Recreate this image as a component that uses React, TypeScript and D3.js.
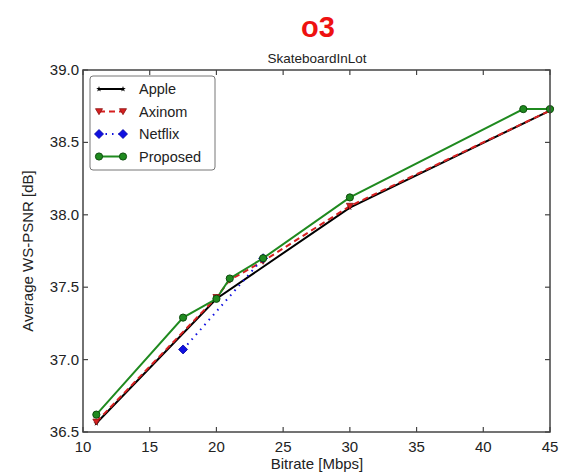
import React from "react";
import * as d3 from "d3";

const xTicks = [10, 15, 20, 25, 30, 35, 40, 45];
const yTicks = [36.5, 37.0, 37.5, 38.0, 38.5, 39.0];

const appleX = [11, 20, 30, 45];
const appleY = [36.56, 37.42, 38.05, 38.72];
const axinomX = [11, 20, 21, 23.5, 30, 45];
const axinomY = [36.57, 37.43, 37.55, 37.68, 38.06, 38.72];
const netflixX = [17.5, 23.5];
const netflixY = [37.07, 37.7];
const proposedX = [11, 17.5, 20, 21, 23.5, 30, 43, 45];
const proposedY = [36.62, 37.29, 37.42, 37.56, 37.7, 38.12, 38.73, 38.73];

const W = 561, H = 474;
const L = 83, R = 550, T = 70, B = 432;

export default function App() {
  const x = d3.scaleLinear().domain([10, 45]).range([L, R]);
  const y = d3.scaleLinear().domain([36.5, 39.0]).range([B, T]);
  const line = d3.line<[number, number]>().x(d => x(d[0])).y(d => y(d[1]));
  const pts = (xs: number[], ys: number[]) => xs.map((v, i) => [v, ys[i]] as [number, number]);

  const font = "'Liberation Sans', Arial, sans-serif";
  const axisColor = "#444";
  const green = "#1f8a1f";
  const red = "#d62020";
  const blue = "#1010e0";

  const tri = (cx: number, cy: number, s: number) =>
    `M${cx - s},${cy - s * 0.8}L${cx + s},${cy - s * 0.8}L${cx},${cy + s * 0.9}Z`;
  const diamond = (cx: number, cy: number, s: number) =>
    `M${cx},${cy - s}L${cx + s},${cy}L${cx},${cy + s}L${cx - s},${cy}Z`;
  const star = d3.symbol(d3.symbolStar, 10)();

  const legendItems = [
    { name: "Apple", color: "#000", dash: "", marker: "star" },
    { name: "Axinom", color: red, dash: "6,4", marker: "tri" },
    { name: "Netflix", color: blue, dash: "1.5,5", marker: "diamond" },
    { name: "Proposed", color: green, dash: "", marker: "circle" },
  ];

  const drawMarker = (m: string, cx: number, cy: number, key: string) => {
    if (m === "star") return <path key={key} d={star || ""} transform={`translate(${cx},${cy})`} fill="#000" />;
    if (m === "tri") return <path key={key} d={tri(cx, cy, 3.5)} fill={red} stroke="#8a1010" strokeWidth={0.8} />;
    if (m === "diamond") return <path key={key} d={diamond(cx, cy, 4.5)} fill={blue} stroke="#0000a0" strokeWidth={0.8} />;
    return <circle key={key} cx={cx} cy={cy} r={3.6} fill={green} stroke="#0d4d0d" strokeWidth={1} />;
  };

  return (
    <svg width={W} height={H} style={{ position: "absolute", left: 0, top: 0, background: "#fff" }}>
      <rect x={0} y={0} width={W} height={H} fill="#fff" />
      <text x={318} y={37} textAnchor="middle" fontFamily={font} fontWeight="bold" fontSize={29} fill="#ee1111">o3</text>
      <text x={317} y={63} textAnchor="middle" fontFamily={font} fontSize={13.5} fill="#222">SkateboardInLot</text>

      {/* lines */}
      <path d={line(pts(appleX, appleY)) || ""} fill="none" stroke="#000" strokeWidth={2} />
      <path d={line(pts(axinomX, axinomY)) || ""} fill="none" stroke={red} strokeWidth={2} strokeDasharray="6,4" />
      <path d={line(pts(netflixX, netflixY)) || ""} fill="none" stroke={blue} strokeWidth={2} strokeDasharray="1.5,5" />
      <path d={line(pts(proposedX, proposedY)) || ""} fill="none" stroke={green} strokeWidth={2} />

      {appleX.map((v, i) => drawMarker("star", x(v), y(appleY[i]), "a" + i))}
      {axinomX.map((v, i) => drawMarker("tri", x(v), y(axinomY[i]), "x" + i))}
      {netflixX.map((v, i) => drawMarker("diamond", x(v), y(netflixY[i]), "n" + i))}
      {proposedX.map((v, i) => drawMarker("circle", x(v), y(proposedY[i]), "p" + i))}

      {/* frame */}
      <rect x={L} y={T} width={R - L} height={B - T} fill="none" stroke={axisColor} strokeWidth={1.5} />
      {xTicks.map(t => (
        <g key={"xt" + t}>
          <line x1={x(t)} x2={x(t)} y1={B} y2={B - 5} stroke={axisColor} strokeWidth={1.2} />
          <line x1={x(t)} x2={x(t)} y1={T} y2={T + 5} stroke={axisColor} strokeWidth={1.2} />
          <text x={x(t)} y={B + 20} textAnchor="middle" fontFamily={font} fontSize={15} fill="#222">{t}</text>
        </g>
      ))}
      {yTicks.map(t => (
        <g key={"yt" + t}>
          <line x1={L} x2={L + 5} y1={y(t)} y2={y(t)} stroke={axisColor} strokeWidth={1.2} />
          <line x1={R} x2={R - 5} y1={y(t)} y2={y(t)} stroke={axisColor} strokeWidth={1.2} />
          <text x={79} y={y(t) + 5} textAnchor="end" fontFamily={font} fontSize={15} fill="#222">{t.toFixed(1)}</text>
        </g>
      ))}
      <text x={317} y={469} textAnchor="middle" fontFamily={font} fontSize={15} fill="#222">Bitrate [Mbps]</text>
      <text transform={`translate(33,${(T + B) / 2}) rotate(-90)`} textAnchor="middle" fontFamily={font} fontSize={15} fill="#222">Average WS-PSNR [dB]</text>

      {/* legend */}
      <rect x={90} y={76} width={125} height={94} rx={3} fill="#fff" stroke="#777" strokeWidth={1} />
      {legendItems.map((it, i) => {
        const ly = 89 + i * 22.5;
        return (
          <g key={it.name}>
            <line x1={99} x2={123} y1={ly} y2={ly} stroke={it.color} strokeWidth={2} strokeDasharray={it.dash || undefined} />
            {drawMarker(it.marker, 99, ly, "l1" + i)}
            {drawMarker(it.marker, 123, ly, "l2" + i)}
            <text x={139} y={ly + 5} fontFamily={font} fontSize={14.5} fill="#222">{it.name}</text>
          </g>
        );
      })}
    </svg>
  );
}
